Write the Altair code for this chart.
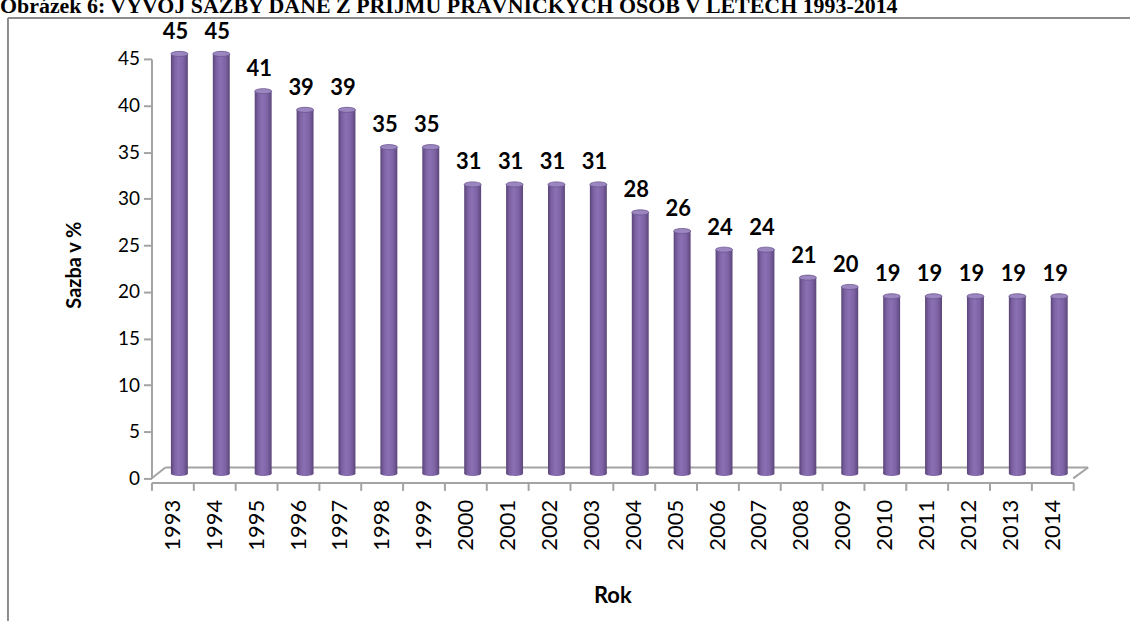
import altair as alt
import pandas as pd

# Corporate income tax rate by year
years = [str(y) for y in range(1993, 2015)]
rates = [45, 45, 41, 39, 39, 35, 35, 31, 31, 31, 31, 28, 26, 24, 24, 21, 20, 19, 19, 19, 19, 19]

title_text = "Obrázek 6: VÝVOJ SAZBY DANĚ Z PŘÍJMŮ PRÁVNICKÝCH OSOB V LETECH 1993-2014"
y_title = "Sazba v %"
x_title = "Rok"

df = pd.DataFrame({"rok": years, "sazba": rates})

# the drawing area is the whole page; the plot box is placed through the scale ranges
PW, PH = 1130, 621
LEFT, RIGHT, TOP, BOTTOM = 152, 1077, 58, 479
GRAY = "#a3a3a3"
FONT = "Lato"

x_enc = alt.X("rok:N", sort=years,
              scale=alt.Scale(paddingInner=0, paddingOuter=0, range=[LEFT, RIGHT]),
              axis=alt.Axis(title=None, labelAngle=270, labelFontSize=22, labelFont=FONT,
                            labelColor="#000000", labelPadding=9, labelAlign="right",
                            labelBaseline="middle", offset=-(PH - BOTTOM),
                            tickBand="extent", tickSize=8, tickWidth=2, tickColor=GRAY,
                            domainColor=GRAY, domainWidth=2, grid=False))
y_scale = alt.Scale(domain=[0, 45], nice=False, zero=True, range=[BOTTOM, TOP])
y_enc = alt.Y("sazba:Q", scale=y_scale,
              axis=alt.Axis(title=None, values=list(range(0, 50, 5)), labelFontSize=19,
                            labelFont=FONT, labelColor="#000000", labelPadding=4,
                            offset=-LEFT,
                            tickSize=8, tickWidth=2, tickColor=GRAY,
                            domainColor=GRAY, domainWidth=2, grid=False))

DX, DY = 7, -5  # depth shift of the cylinders onto the floor
body = alt.Gradient(gradient="linear", x1=0, x2=1, y1=0, y2=0, stops=[
    alt.GradientStop(offset=0, color="#5a4478"),
    alt.GradientStop(offset=0.2, color="#7c61a2"),
    alt.GradientStop(offset=0.45, color="#8b70b4"),
    alt.GradientStop(offset=0.75, color="#7d62a4"),
    alt.GradientStop(offset=1, color="#5c4679"),
])

base = alt.Chart(df)

bars = base.mark_bar(size=17, fill=body, xOffset=DX, x2Offset=DX,
                     yOffset=DY, y2Offset=DY).encode(
    x=x_enc, y=y_enc, y2=alt.datum(0))

ellipse = "M-1,0 A1,0.3 0 1,1 1,0 A1,0.3 0 1,1 -1,0 Z"

bottom_caps = base.mark_point(shape=ellipse, size=289, filled=True, fill=body,
                              opacity=1, xOffset=DX, yOffset=DY).encode(
    x=alt.X("rok:N", sort=years), y=alt.datum(0))

top_caps = base.mark_point(shape=ellipse, size=289, filled=True, fill="#9b86bf",
                           stroke="#6a5490", strokeWidth=0.8, opacity=1,
                           xOffset=DX, yOffset=DY).encode(
    x=alt.X("rok:N", sort=years), y=alt.Y("sazba:Q"))

labels = base.mark_text(font=FONT, fontSize=22, fontWeight="bold", color="#000000",
                        dx=3, dy=-20, baseline="alphabetic").encode(
    x=alt.X("rok:N", sort=years), y=alt.Y("sazba:Q"), text="sazba:Q")

# floor of the 3-D plot and the outer frame
one = pd.DataFrame({"k": [0]})
def rule(x, x2, y, y2, color=GRAY, w=2):
    return alt.Chart(one).mark_rule(color=color, strokeWidth=w).encode(
        x=alt.value(x), x2=alt.value(x2), y=alt.value(y), y2=alt.value(y2))

floor = (rule(LEFT + 14, RIGHT + 15, BOTTOM - 11, BOTTOM - 11)
         + rule(LEFT, LEFT + 14, BOTTOM, BOTTOM - 11)
         + rule(RIGHT, RIGHT + 15, BOTTOM, BOTTOM - 11))
frame = rule(8, 8, 17, PH + 5, color="#8c8c8c") + rule(8, PW + 5, 17, 17, color="#8c8c8c")

def text(t, x, y, size, angle=0, weight="bold", font=FONT, align="center"):
    return alt.Chart(one).mark_text(text=t, fontSize=size, fontWeight=weight, font=font,
                                    angle=angle, align=align, baseline="middle",
                                    color="#000000").encode(
        x=alt.value(x), y=alt.value(y))

# caption line sits at the very top edge of the page
title = alt.Chart(one).mark_text(text=title_text, fontSize=22, fontWeight="bold",
                                 font="Liberation Serif", align="left",
                                 baseline="alphabetic", color="#000000").encode(
    x=alt.value(0), y=alt.value(12))
ytitle = text(y_title, 75, 265, 20, angle=270)
xtitle = text(x_title, 615, 597, 22)

chart = alt.layer(frame, floor, bars, bottom_caps, top_caps, labels,
                  title, ytitle, xtitle).properties(
    width=PW + 4, height=PH + 4,
    background="#ffffff",
    autosize=alt.AutoSizeParams(type="none"),
    padding=0,
).configure(
    view=alt.ViewConfig(stroke="transparent", strokeWidth=0),
    style={"cell": {"stroke": "transparent", "strokeWidth": 0}},
).configure_axis(grid=False)

chart.save("out.html", embed_options={"renderer": "svg", "actions": False})
